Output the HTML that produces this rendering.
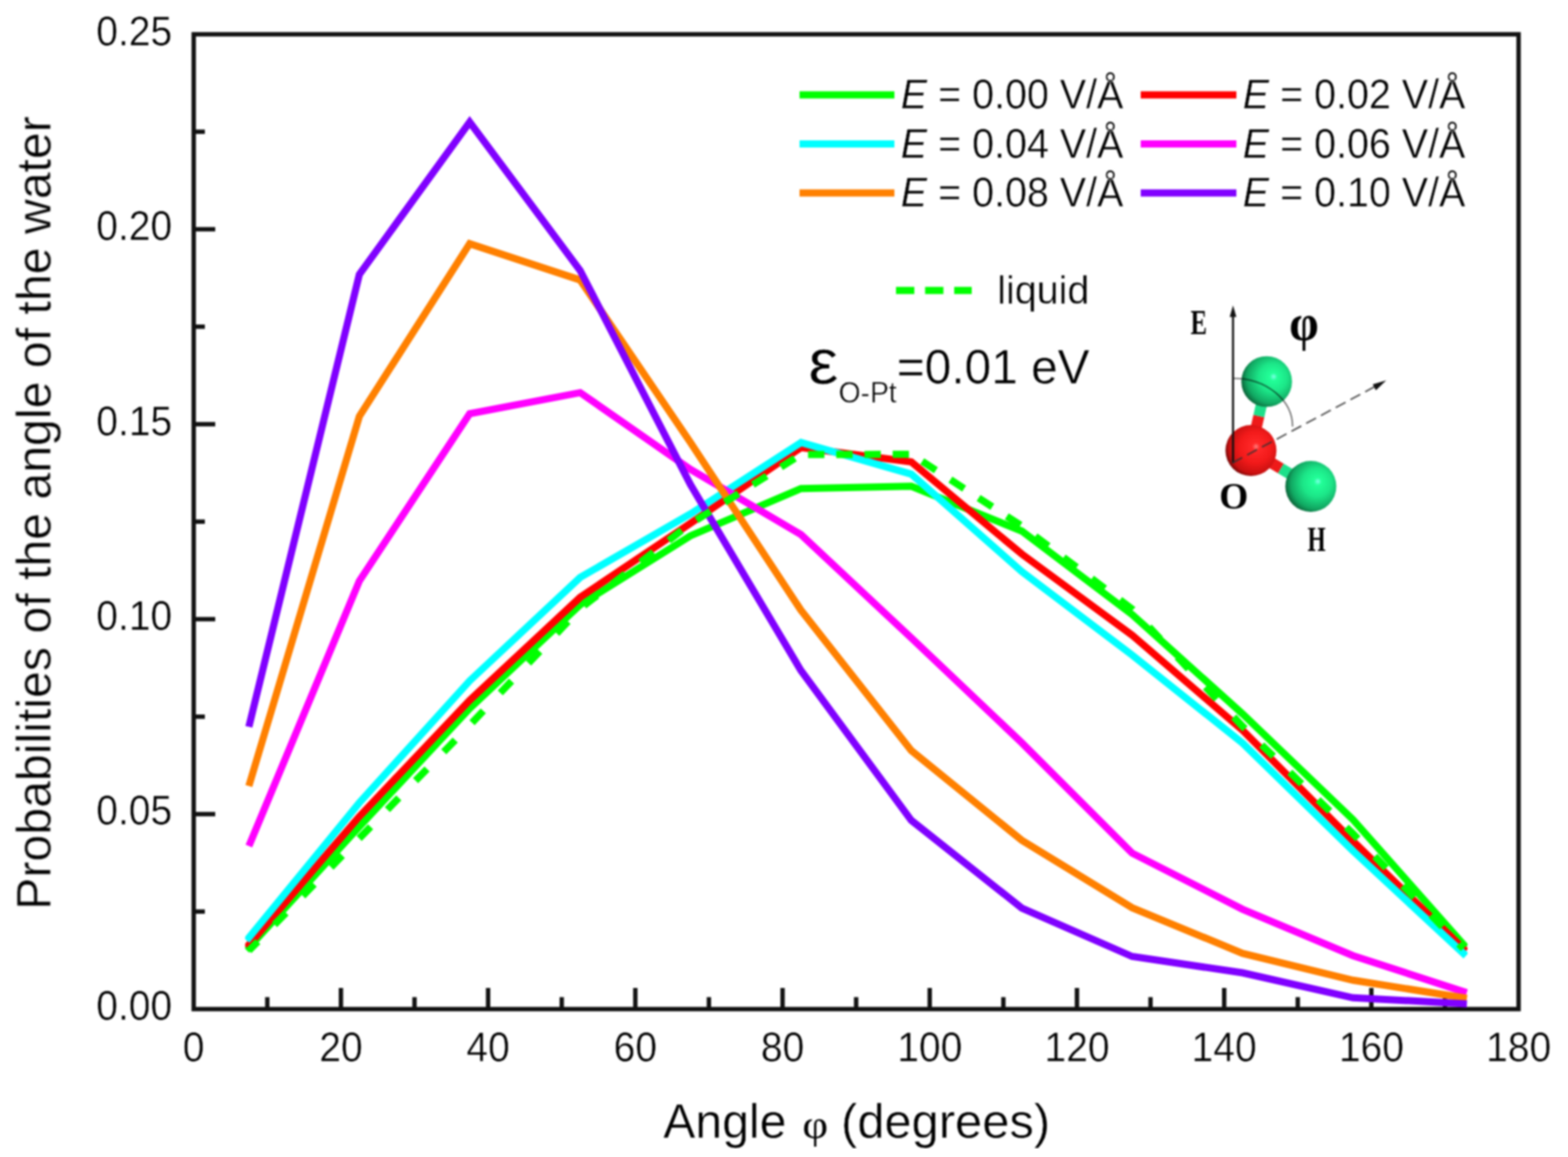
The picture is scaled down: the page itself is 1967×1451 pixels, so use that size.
<!DOCTYPE html><html><head><meta charset="utf-8"><title>Water angle distribution</title>
<style>html,body{margin:0;padding:0;background:#fff;overflow:hidden;}svg{display:block;}.t{font-family:"Liberation Sans",Arial,sans-serif;fill:#000;stroke:#fff;stroke-width:0.5px;}.s{font-family:"Liberation Serif","Times New Roman",serif;fill:#000;}</style></head><body>
<svg width="1967" height="1451" viewBox="0 0 1967 1451">
<defs><filter id="soft" x="0" y="0" width="1" height="1" color-interpolation-filters="sRGB"><feGaussianBlur stdDeviation="0.8"/></filter></defs>
<rect width="1967" height="1451" fill="#fff"/>
<g filter="url(#soft)">
<g stroke="#111" fill="none" stroke-width="5.5">
<rect x="243.0" y="43.0" width="1662.0" height="1222.5"/>
<line x1="335.3" y1="1265.5" x2="335.3" y2="1250.5"/>
<line x1="427.7" y1="1265.5" x2="427.7" y2="1239.0"/>
<line x1="520.0" y1="1265.5" x2="520.0" y2="1250.5"/>
<line x1="612.3" y1="1265.5" x2="612.3" y2="1239.0"/>
<line x1="704.7" y1="1265.5" x2="704.7" y2="1250.5"/>
<line x1="797.0" y1="1265.5" x2="797.0" y2="1239.0"/>
<line x1="889.3" y1="1265.5" x2="889.3" y2="1250.5"/>
<line x1="981.7" y1="1265.5" x2="981.7" y2="1239.0"/>
<line x1="1074.0" y1="1265.5" x2="1074.0" y2="1250.5"/>
<line x1="1166.3" y1="1265.5" x2="1166.3" y2="1239.0"/>
<line x1="1258.7" y1="1265.5" x2="1258.7" y2="1250.5"/>
<line x1="1351.0" y1="1265.5" x2="1351.0" y2="1239.0"/>
<line x1="1443.3" y1="1265.5" x2="1443.3" y2="1250.5"/>
<line x1="1535.7" y1="1265.5" x2="1535.7" y2="1239.0"/>
<line x1="1628.0" y1="1265.5" x2="1628.0" y2="1250.5"/>
<line x1="1720.3" y1="1265.5" x2="1720.3" y2="1239.0"/>
<line x1="1812.7" y1="1265.5" x2="1812.7" y2="1250.5"/>
<line x1="243.0" y1="1143.2" x2="257.0" y2="1143.2"/>
<line x1="243.0" y1="1021.0" x2="270.0" y2="1021.0"/>
<line x1="243.0" y1="898.8" x2="257.0" y2="898.8"/>
<line x1="243.0" y1="776.5" x2="270.0" y2="776.5"/>
<line x1="243.0" y1="654.2" x2="257.0" y2="654.2"/>
<line x1="243.0" y1="532.0" x2="270.0" y2="532.0"/>
<line x1="243.0" y1="409.7" x2="257.0" y2="409.7"/>
<line x1="243.0" y1="287.5" x2="270.0" y2="287.5"/>
<line x1="243.0" y1="165.2" x2="257.0" y2="165.2"/>
</g>
<g fill="none" stroke-width="9.0" stroke-linejoin="miter" stroke-miterlimit="10" stroke-linecap="butt">
<defs><clipPath id="dclip"><rect x="307.5" y="40" width="1533.5" height="1224"/></clipPath></defs>
<g clip-path="url(#dclip)">
<polyline points="309.2,1191.6 450.8,1036.6 589.2,888.5 727.8,758.4 866.2,671.9 1004.8,612.7 1143.2,609.8 1281.8,666.0 1420.2,770.6 1558.8,895.3 1697.2,1027.8 1838.7,1187.7" stroke="#00ff00"/>
<polyline points="309.3,1188.2 450.8,1023.9 589.2,878.2 727.8,749.1 866.2,656.2 1004.8,561.3 1143.2,579.4 1281.8,694.8 1420.2,796.5 1558.8,915.9 1697.2,1054.7 1839.0,1192.8" stroke="#ff0000"/>
<polyline points="309.4,1179.5 450.8,1006.8 589.2,853.8 727.8,724.2 866.2,644.5 1004.8,555.0 1143.2,594.6 1281.8,716.8 1420.2,821.5 1558.8,932.0 1697.2,1067.0 1839.0,1198.6" stroke="#00ffff"/>
<polyline points="312.2,1061.1 450.8,728.6 589.2,518.8 727.8,492.4 866.2,588.7 1004.8,670.4 1143.2,800.0 1281.8,931.5 1420.2,1069.9 1558.8,1140.3 1697.2,1198.5 1840.0,1244.9" stroke="#ff00ff"/>
<polyline points="312.2,985.8 450.8,522.2 589.2,305.6 727.8,351.1 866.2,555.0 1004.8,765.3 1143.2,941.3 1281.8,1053.8 1420.2,1138.4 1558.8,1195.6 1697.2,1229.3 1840.2,1252.0" stroke="#ff8000"/>
<polyline points="312.2,911.5 450.8,344.2 589.2,153.0 727.8,339.3 866.2,607.8 1004.8,841.0 1143.2,1028.8 1281.8,1138.8 1420.2,1199.5 1558.8,1220.0 1697.2,1251.3 1840.2,1258.9" stroke="#8000ff"/>
<path d="M312.2,1192.2 L323.4,1180.8 M344.4,1159.5 L358.8,1144.9 M379.8,1123.5 L394.1,1108.9 M415.2,1087.5 L429.5,1072.9 M450.6,1051.5 L450.8,1051.3 L464.9,1036.8 M486.0,1015.3 L500.3,1000.6 M521.3,979.0 L535.7,964.4 M556.7,942.8 L571.1,928.1 M592.2,906.4 L606.3,891.5 M627.6,869.0 L641.7,854.1 M663.0,831.7 L677.1,816.8 M698.4,794.3 L712.5,779.4 M732.7,759.5 L748.9,747.0 M768.1,732.2 L784.3,719.7 M803.5,705.0 L819.7,692.5 M838.9,677.8 L855.1,665.3 M873.7,652.1 L891.1,641.2 M909.1,629.9 L926.5,619.1 M944.5,607.8 L961.8,597.0 M979.8,585.7 L997.2,574.8 M1013.7,570.1 L1034.2,570.0 M1049.1,570.0 L1069.6,569.9 M1084.4,569.9 L1104.9,569.8 M1119.8,569.7 L1140.3,569.7 M1156.9,578.5 L1174.1,589.7 M1192.3,601.5 L1209.5,612.7 M1227.6,624.5 L1244.8,635.6 M1263.0,647.5 L1280.2,658.6 M1298.8,672.5 L1315.2,684.8 M1334.2,699.1 L1350.6,711.4 M1369.6,725.7 L1386.0,738.0 M1405.0,752.3 L1420.2,763.8 L1421.2,764.8 M1441.5,786.4 L1455.6,801.3 M1476.9,824.0 L1491.0,838.9 M1512.3,861.6 L1526.4,876.6 M1547.7,899.2 L1558.8,911.0 L1561.9,914.0 M1582.8,934.3 L1597.5,948.6 M1618.1,968.6 L1632.9,982.9 M1653.5,1003.0 L1668.2,1017.3 M1688.9,1037.4 L1697.2,1045.5 L1703.4,1051.9 M1724.6,1073.9 L1738.8,1088.7 M1759.9,1110.8 L1774.1,1125.5 M1795.3,1147.6 L1809.5,1162.4 M1830.1,1183.8 L1835.8,1189.7" stroke="#00ff00"/>
</g>
</g>
<text class="t" font-size="49" text-anchor="middle" transform="translate(243.0,1331.0) scale(1,1.045)">0</text>
<text class="t" font-size="49" text-anchor="middle" transform="translate(427.7,1331.0) scale(1,1.045)">20</text>
<text class="t" font-size="49" text-anchor="middle" transform="translate(612.3,1331.0) scale(1,1.045)">40</text>
<text class="t" font-size="49" text-anchor="middle" transform="translate(797.0,1331.0) scale(1,1.045)">60</text>
<text class="t" font-size="49" text-anchor="middle" transform="translate(981.7,1331.0) scale(1,1.045)">80</text>
<text class="t" font-size="49" text-anchor="middle" transform="translate(1166.3,1331.0) scale(1,1.045)">100</text>
<text class="t" font-size="49" text-anchor="middle" transform="translate(1351.0,1331.0) scale(1,1.045)">120</text>
<text class="t" font-size="49" text-anchor="middle" transform="translate(1535.7,1331.0) scale(1,1.045)">140</text>
<text class="t" font-size="49" text-anchor="middle" transform="translate(1720.3,1331.0) scale(1,1.045)">160</text>
<text class="t" font-size="49" text-anchor="middle" transform="translate(1905.0,1331.0) scale(1,1.045)">180</text>
<text class="t" font-size="49" text-anchor="end" transform="translate(216.0,1279.0) scale(1,1.045)">0.00</text>
<text class="t" font-size="49" text-anchor="end" transform="translate(216.0,1034.5) scale(1,1.045)">0.05</text>
<text class="t" font-size="49" text-anchor="end" transform="translate(216.0,790.0) scale(1,1.045)">0.10</text>
<text class="t" font-size="49" text-anchor="end" transform="translate(216.0,545.5) scale(1,1.045)">0.15</text>
<text class="t" font-size="49" text-anchor="end" transform="translate(216.0,301.0) scale(1,1.045)">0.20</text>
<text class="t" font-size="49" text-anchor="end" transform="translate(216.0,56.5) scale(1,1.045)">0.25</text>
<text class="t" font-size="60.5" text-anchor="middle" transform="translate(63.5,643.3) rotate(-90) scale(1,1.020)">Probabilities of the angle of the water</text>
<text class="t" font-size="60.5" transform="translate(832.0,1427.0) scale(1,1.020)">Angle</text>
<text class="s" font-size="50" transform="translate(1006.5,1427) scale(1.12,1.02)">φ</text>
<text class="t" font-size="61.3" transform="translate(1055.0,1427.0)">(degrees)</text>
<line x1="1003" y1="119.0" x2="1122" y2="119.0" stroke="#00ff00" stroke-width="9.0"/>
<text class="t" font-size="49.5" transform="translate(1130.0,136.0) scale(1,1.030)"><tspan font-style="italic">E</tspan> = 0.00 V/Å</text>
<line x1="1431" y1="119.0" x2="1551" y2="119.0" stroke="#ff0000" stroke-width="9.0"/>
<text class="t" font-size="49.5" transform="translate(1559.0,136.0) scale(1,1.030)"><tspan font-style="italic">E</tspan> = 0.02 V/Å</text>
<line x1="1003" y1="180.5" x2="1122" y2="180.5" stroke="#00ffff" stroke-width="9.0"/>
<text class="t" font-size="49.5" transform="translate(1130.0,197.5) scale(1,1.030)"><tspan font-style="italic">E</tspan> = 0.04 V/Å</text>
<line x1="1431" y1="180.5" x2="1551" y2="180.5" stroke="#ff00ff" stroke-width="9.0"/>
<text class="t" font-size="49.5" transform="translate(1559.0,197.5) scale(1,1.030)"><tspan font-style="italic">E</tspan> = 0.06 V/Å</text>
<line x1="1003" y1="242.0" x2="1122" y2="242.0" stroke="#ff8000" stroke-width="9.0"/>
<text class="t" font-size="49.5" transform="translate(1130.0,259.0) scale(1,1.030)"><tspan font-style="italic">E</tspan> = 0.08 V/Å</text>
<line x1="1431" y1="242.0" x2="1551" y2="242.0" stroke="#8000ff" stroke-width="9.0"/>
<text class="t" font-size="49.5" transform="translate(1559.0,259.0) scale(1,1.030)"><tspan font-style="italic">E</tspan> = 0.10 V/Å</text>
<line x1="1124" y1="364.3" x2="1219" y2="364.3" stroke="#00ff00" stroke-width="9.0" stroke-dasharray="23 13.5"/>
<text class="t" font-size="49.5" transform="translate(1251.0,381.0)">liquid</text>
<text class="t" font-size="85" transform="translate(1014,481) scale(1,0.93)">ε</text>
<text class="t" font-size="35.5" transform="translate(1052.0,504.5) scale(1,1.030)">O-Pt</text>
<text class="t" font-size="60" transform="translate(1125.0,481.0) scale(1,1.030)">=0.01 eV</text>
<defs>
<radialGradient id="gH" cx="0.6" cy="0.45" r="0.62" fx="0.64" fy="0.4">
<stop offset="0" stop-color="#7fffe8"/><stop offset="0.12" stop-color="#22ff98"/><stop offset="0.45" stop-color="#1ce688"/><stop offset="0.8" stop-color="#11a862"/><stop offset="1" stop-color="#0a5c34"/></radialGradient>
<radialGradient id="gO" cx="0.58" cy="0.45" r="0.62" fx="0.6" fy="0.42">
<stop offset="0" stop-color="#ff8080"/><stop offset="0.12" stop-color="#ff2828"/><stop offset="0.5" stop-color="#f21a1a"/><stop offset="0.82" stop-color="#c81010"/><stop offset="1" stop-color="#5a0404"/></radialGradient>
<linearGradient id="gBr" x1="0" y1="0" x2="1" y2="0"><stop offset="0" stop-color="#a00808"/><stop offset="0.5" stop-color="#ff2020"/><stop offset="1" stop-color="#c01010"/></linearGradient>
</defs>
<g stroke-width="14" stroke-linecap="butt">
<line x1="1569.3" y1="565.0" x2="1579.2" y2="521.8" stroke="#ee1a1a"/>
<line x1="1579.2" y1="521.8" x2="1589.0" y2="478.5" stroke="#1de08a"/>
<line x1="1569.3" y1="565.0" x2="1606.8" y2="587.5" stroke="#ee1a1a"/>
<line x1="1606.8" y1="587.5" x2="1644.4" y2="610.0" stroke="#1de08a"/>
</g>
<circle cx="1589.0" cy="478.5" r="31.8" fill="url(#gH)"/>
<circle cx="1569.3" cy="565.0" r="32" fill="url(#gO)"/>
<circle cx="1644.4" cy="610.0" r="32" fill="url(#gH)"/>
<line x1="1546.8" y1="395" x2="1546.8" y2="581" stroke="#111" stroke-width="2.6"/>
<path d="M1546.8,383 L1542.6,397.5 L1551,397.5 Z" fill="#111"/>
<path d="M1547.5,474.5 A74,60.5 0 0 1 1621.5,535" fill="none" stroke="#000" stroke-opacity="0.62" stroke-width="1.6"/>
<line x1="1546" y1="580.5" x2="1724" y2="485.2" stroke="#333" stroke-opacity="0.85" stroke-width="2" stroke-dasharray="14 7"/>
<path d="M1739,477 L1722,482 L1726,489.5 Z" fill="#111"/>
<text class="s" font-weight="bold" font-size="43" transform="translate(1493.5,418.6) scale(0.72,1.04)">E</text>
<text class="s" font-weight="bold" font-size="50" transform="translate(1617.3,425.7) scale(1.19,1.27)">φ</text>
<text class="s" font-weight="bold" font-size="43" transform="translate(1529.5,638.4) scale(1.09,1.06)">O</text>
<text class="s" font-weight="bold" font-size="43" transform="translate(1640.2,690.7) scale(0.68,1.04)">H</text>
</g>
</svg></body></html>
